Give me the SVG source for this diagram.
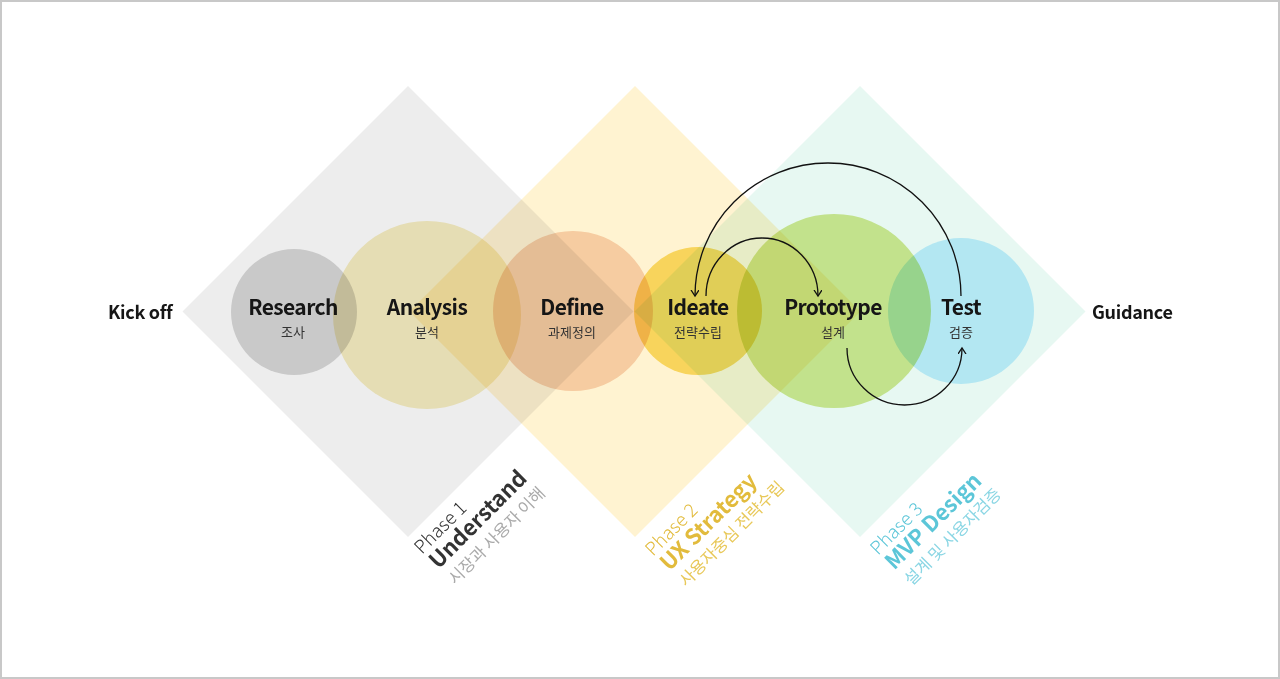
<svg xmlns="http://www.w3.org/2000/svg" width="1280" height="679" viewBox="0 0 1280 679">
<style>
.bl{mix-blend-mode:multiply}
.lbl{font-family:"Noto Sans CJK KR","Noto Sans",sans-serif;font-weight:700;font-size:21px;letter-spacing:-0.6px;fill:#161616;text-anchor:middle}
.sub{font-family:"Noto Sans CJK KR","Noto Sans",sans-serif;font-weight:400;font-size:13px;fill:#333;text-anchor:middle}
.end{font-family:"Noto Sans CJK KR","Noto Sans",sans-serif;font-weight:700;font-size:18px;letter-spacing:-0.3px;fill:#161616}
.ph{font-family:"Noto Sans CJK KR","Noto Sans",sans-serif;font-weight:300;font-size:18.5px}
.pt{font-family:"Noto Sans CJK KR","Noto Sans",sans-serif;font-weight:700;font-size:22px}
.pk{font-family:"Noto Sans CJK KR","Noto Sans",sans-serif;font-weight:400;font-size:16.5px}
.arc{fill:none;stroke:#111;stroke-width:1.3}
</style>
<defs>
<marker id="ah" markerWidth="10" markerHeight="10" refX="6" refY="4" orient="auto" markerUnits="userSpaceOnUse">
<path d="M0,0 L6,4 L0,8" fill="none" stroke="#111" stroke-width="1.3"/>
</marker>
</defs>
<rect x="0" y="0" width="1280" height="679" fill="#ffffff"/>
<rect x="1" y="1" width="1278" height="677" fill="none" stroke="#c8c8c8" stroke-width="2"/>
<g id="phases">
<polygon class="bl" points="408,86 633.5,311.5 408,537 182.5,311.5" fill="#ededed"/>
<polygon class="bl" points="635,86 860.5,311.5 635,537 409.5,311.5" fill="#fff3d1"/>
<polygon class="bl" points="860,86 1085.5,311.5 860,537 634.5,311.5" fill="#e7f8f2"/>
</g>
<g id="research"><circle class="bl" cx="294" cy="312" r="63" fill="#d9d9d9"/><text class="lbl" x="293" y="315">Research</text><text class="sub" x="293" y="337">조사</text></g>
<g id="analysis"><circle class="bl" cx="427" cy="315" r="94" fill="#f7eec2"/><text class="lbl" x="427" y="315">Analysis</text><text class="sub" x="427" y="337">분석</text></g>
<g id="define"><circle class="bl" cx="573" cy="311" r="80" fill="#f6d6c4"/><text class="lbl" x="572" y="315">Define</text><text class="sub" x="572" y="337">과제정의</text></g>
<g id="ideate"><circle class="bl" cx="698" cy="311" r="64" fill="#f8df70"/><text class="lbl" x="698" y="315">Ideate</text><text class="sub" x="698" y="337">전략수립</text></g>
<g id="prototype"><circle class="bl" cx="834" cy="311" r="97" fill="#d6e994"/><text class="lbl" x="833" y="315">Prototype</text><text class="sub" x="833" y="337">설계</text></g>
<g id="test"><circle class="bl" cx="961" cy="311" r="73" fill="#c6eeff"/><text class="lbl" x="961" y="315">Test</text><text class="sub" x="961" y="337">검증</text></g>
<g id="kickoff"><text class="end" x="108" y="319">Kick off</text></g>
<g id="guidance"><text class="end" x="1092" y="319">Guidance</text></g>
<g id="connectors">
<path class="arc" d="M961,296 A133,133 0 0 0 695,296" marker-end="url(#ah)"/>
<path class="arc" d="M706,296 A56,58 0 0 1 818,296" marker-end="url(#ah)"/>
<path class="arc" d="M847,348 A57.5,57 0 0 0 962,348" marker-end="url(#ah)"/>
</g>
<g id="phase1" transform="translate(422,555) rotate(-45)">
<text class="ph" x="0" y="0" fill="#333">Phase 1</text>
<text class="pt" x="1" y="22" fill="#333">Understand</text>
<text class="pk" x="2" y="45" fill="#aaaaaa">시장과 사용자 이해</text>
</g>
<g id="phase2" transform="translate(653,557) rotate(-45)">
<text class="ph" x="0" y="0" fill="#e2bb3c">Phase 2</text>
<text class="pt" x="1" y="22" fill="#e2bb3c">UX Strategy</text>
<text class="pk" x="2" y="45" fill="#e8c858">사용자중심 전략수립</text>
</g>
<g id="phase3" transform="translate(878,556) rotate(-45)">
<text class="ph" x="0" y="0" fill="#5cc6d8">Phase 3</text>
<text class="pt" x="1" y="22" fill="#5cc6d8">MVP Design</text>
<text class="pk" x="2" y="45" fill="#8ad6e4">설계 및 사용자검증</text>
</g>
</svg>
